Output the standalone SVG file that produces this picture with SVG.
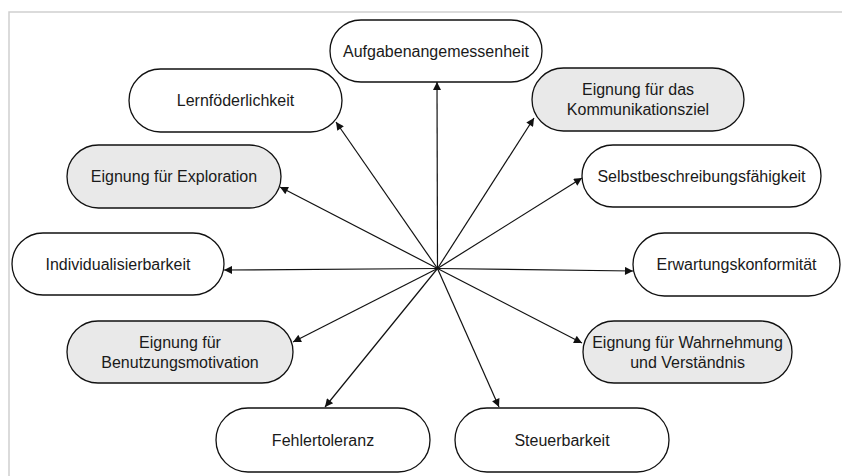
<svg xmlns="http://www.w3.org/2000/svg" width="842" height="476" viewBox="0 0 842 476">
  <style>
    .node rect { stroke: #111; stroke-width: 1.3; }
    .plain rect { fill: #ffffff; }
    .shade rect { fill: #e9e9e9; }
    .node text { font-family: "Liberation Sans", Arial, sans-serif; font-size: 16px; fill: #1a1a1a; text-anchor: middle; }
    .edge { stroke: #111; stroke-width: 1.2; fill: none; marker-end: url(#arrow); }
    .frame { stroke: #cfcfcf; stroke-width: 1.5; fill: none; }
  </style>
  <defs>
    <marker id="arrow" viewBox="0 0 10 10" refX="10" refY="5" markerWidth="10" markerHeight="8" markerUnits="userSpaceOnUse" orient="auto">
      <path d="M0,0 L10,5 L0,10 Z" fill="#111"/>
    </marker>
  </defs>

  <rect width="842" height="476" fill="#ffffff"/>
  <!-- page frame -->
  <path class="frame" d="M9,476 V12 H842"/>

  <!-- connectors from the hub -->
  <g id="connectors">
    <line class="edge" x1="437.5" y1="268.5" x2="437" y2="82"/>
    <line class="edge" x1="437.5" y1="268.5" x2="336" y2="122"/>
    <line class="edge" x1="437.5" y1="268.5" x2="534" y2="118"/>
    <line class="edge" x1="437.5" y1="268.5" x2="280" y2="187"/>
    <line class="edge" x1="437.5" y1="268.5" x2="582" y2="178"/>
    <line class="edge" x1="437.5" y1="268.5" x2="224" y2="270"/>
    <line class="edge" x1="437.5" y1="268.5" x2="633" y2="271"/>
    <line class="edge" x1="437.5" y1="268.5" x2="293" y2="342"/>
    <line class="edge" x1="437.5" y1="268.5" x2="582" y2="343"/>
    <line class="edge" x1="437.5" y1="268.5" x2="325" y2="407"/>
    <line class="edge" x1="437.5" y1="268.5" x2="499" y2="407"/>
  </g>

  <g id="aufgabenangemessenheit" class="node plain">
    <rect x="330" y="20" width="212" height="62" rx="31"/>
    <text x="436" y="56.5">Aufgabenangemessenheit</text>
  </g>
  <g id="lernfoederlichkeit" class="node plain">
    <rect x="129" y="69" width="213" height="63" rx="31.5"/>
    <text x="235.5" y="106">Lernföderlichkeit</text>
  </g>
  <g id="kommunikationsziel" class="node shade">
    <rect x="532" y="68" width="212" height="63" rx="31.5"/>
    <text x="638" y="95">Eignung für das</text>
    <text x="638" y="115">Kommunikationsziel</text>
  </g>
  <g id="exploration" class="node shade">
    <rect x="67" y="145" width="214" height="63" rx="31.5"/>
    <text x="174" y="182">Eignung für Exploration</text>
  </g>
  <g id="selbstbeschreibungsfaehigkeit" class="node plain">
    <rect x="582" y="145" width="239" height="62" rx="31"/>
    <text x="701.5" y="181.5">Selbstbeschreibungsfähigkeit</text>
  </g>
  <g id="individualisierbarkeit" class="node plain">
    <rect x="12" y="233" width="212" height="62" rx="31"/>
    <text x="118" y="269.5">Individualisierbarkeit</text>
  </g>
  <g id="erwartungskonformitaet" class="node plain">
    <rect x="633" y="233" width="207" height="63" rx="31.5"/>
    <text x="736.5" y="270">Erwartungskonformität</text>
  </g>
  <g id="benutzungsmotivation" class="node shade">
    <rect x="67" y="321" width="226" height="62" rx="31"/>
    <text x="180" y="347.5">Eignung für</text>
    <text x="180" y="367.5">Benutzungsmotivation</text>
  </g>
  <g id="wahrnehmung" class="node shade">
    <rect x="583" y="321" width="209" height="62" rx="31"/>
    <text x="687.5" y="347.5">Eignung für Wahrnehmung</text>
    <text x="687.5" y="367.5">und Verständnis</text>
  </g>
  <g id="fehlertoleranz" class="node plain">
    <rect x="216" y="408" width="214" height="64" rx="32"/>
    <text x="323" y="445.5">Fehlertoleranz</text>
  </g>
  <g id="steuerbarkeit" class="node plain">
    <rect x="455" y="408" width="214" height="64" rx="32"/>
    <text x="562" y="445.5">Steuerbarkeit</text>
  </g>
</svg>
